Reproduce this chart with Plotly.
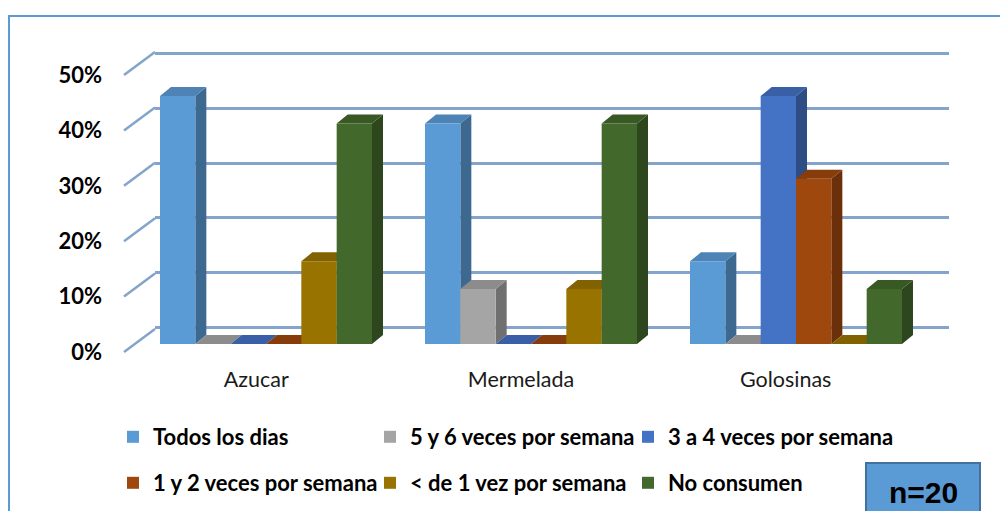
import plotly.graph_objects as go

# ---------------- data ----------------
categories = ["Azucar", "Mermelada", "Golosinas"]
series_names = [
    "Todos los dias",
    "5 y 6 veces por semana",
    "3 a 4 veces por semana",
    "1 y 2 veces por semana",
    "< de 1 vez por semana",
    "No consumen",
]
todos_los_dias = [0.45, 0.40, 0.15]
cinco_seis = [0.00, 0.10, 0.00]
tres_cuatro = [0.00, 0.00, 0.45]
uno_dos = [0.00, 0.00, 0.30]
menos_de_uno = [0.15, 0.10, 0.00]
no_consumen = [0.40, 0.40, 0.10]
series_values = [todos_los_dias, cinco_seis, tres_cuatro, uno_dos, menos_de_uno, no_consumen]
tick_vals = [0, 0.1, 0.2, 0.3, 0.4, 0.5]
tick_text = ["0%", "10%", "20%", "30%", "40%", "50%"]
sample_label = "n=20"

# ---------------- style ----------------
colors = ["#5B9BD5", "#A5A5A5", "#4472C4", "#9E480E", "#997300", "#43682B"]
grid_color = "#84A4CB"
W, H = 1000, 511
FONT = "Lato"


def px(x):
    return x / W


def py(y):
    return 1 - y / H


def shade(hex_color, f):
    h = hex_color.lstrip("#")
    r, g, b = (int(h[i:i + 2], 16) for i in (0, 2, 4))
    return "rgb(%d,%d,%d)" % (int(r * f), int(g * f), int(b * f))


n_series = len(series_names)
group_width = 0.8
bar_w = group_width / n_series
x_positions = list(range(len(categories)))

# depth of the 3D effect (in bar-axis units)
bar_axis_px_per_unit = (344 - 68.5) / 0.5
cat_px = (928.5 - 133.5) / 3.0
depth_dx = 11 / cat_px
depth_dy = 9 / bar_axis_px_per_unit

fig = go.Figure()

legend_ids = ["legend", "legend2", "legend3", "legend4", "legend5", "legend6"]
shapes = []
for i, (name, vals) in enumerate(zip(series_names, series_values)):
    fig.add_trace(go.Bar(
        x=x_positions, y=vals, name=name,
        marker=dict(color=colors[i], line=dict(width=0)),
        offsetgroup=str(i), xaxis="x2", yaxis="y2",
        legend=legend_ids[i], showlegend=True,
        hoverinfo="skip",
    ))

# empty traces so that the back-wall subplot (gridlines) and the
# front-plane label subplot are built
fig.add_trace(go.Scatter(x=[], y=[], xaxis="x", yaxis="y", showlegend=False,
                         legend="legend6", hoverinfo="skip"))
fig.add_trace(go.Scatter(x=[], y=[], xaxis="x3", yaxis="y3", showlegend=False,
                         legend="legend6", hoverinfo="skip"))

# 3D side and top faces, derived from the data through the bar axes
for j in x_positions:
    for i, vals in enumerate(series_values):
        v = vals[j]
        x0 = j - group_width / 2 + i * bar_w
        x1 = x0 + bar_w
        if v > 0:
            side = "M %f,%f L %f,%f L %f,%f L %f,%f Z" % (
                x1, 0, x1 + depth_dx, depth_dy, x1 + depth_dx, v + depth_dy, x1, v)
            shapes.append(dict(type="path", path=side, xref="x2", yref="y2",
                               fillcolor=shade(colors[i], 0.68), line=dict(width=0),
                               layer="between"))
        top = "M %f,%f L %f,%f L %f,%f L %f,%f Z" % (
            x0, v, x1, v, x1 + depth_dx, v + depth_dy, x0 + depth_dx, v + depth_dy)
        shapes.append(dict(type="path", path=top, xref="x2", yref="y2",
                           fillcolor=shade(colors[i], 0.85), line=dict(width=0),
                           layer="between"))

# left wall slanted grid lines (front plane -> back wall), in paper space
front_y0, front_y50 = 352, 75
for t in tick_vals:
    yf = front_y0 - (front_y0 - front_y50) * t / 0.5
    shapes.append(dict(type="line", xref="paper", yref="paper",
                       x0=px(124), y0=py(yf), x1=px(155), y1=py(yf - 23),
                       line=dict(color=grid_color, width=2.5)))

# outer chart border
shapes.append(dict(type="rect", xref="paper", yref="paper",
                   x0=px(9), y0=py(16), x1=px(1012), y1=py(530),
                   line=dict(color="#5B9BD5", width=2), fillcolor="rgba(0,0,0,0)"))
# n=20 box
shapes.append(dict(type="rect", xref="paper", yref="paper",
                   x0=px(866), y0=py(463), x1=px(980), y1=py(525),
                   line=dict(color="#41719C", width=2), fillcolor="#5B9BD5"))

legend_font = dict(family=FONT, size=22, color="black", weight="bold")
# text start x of each legend entry, and row centre y (pixels)
legend_text_x = [153, 410, 668, 153, 410, 668]
legend_row_y = [437, 437, 437, 483, 483, 483]

layout_legends = {}
for k, lid in enumerate(legend_ids):
    layout_legends[lid] = dict(
        orientation="h", x=px(legend_text_x[k] - 40), y=py(legend_row_y[k]),
        xanchor="left", yanchor="middle", bgcolor="rgba(0,0,0,0)",
        font=legend_font, traceorder="normal", visible=True)

fig.update_layout(
    width=W, height=H, autosize=False, showlegend=True,
    margin=dict(l=0, r=0, t=0, b=0, pad=0, autoexpand=False),
    paper_bgcolor="white", plot_bgcolor="rgba(0,0,0,0)",
    barmode="group", bargap=0.2, bargroupgap=0,
    font=dict(family=FONT, color="black"),
    shapes=shapes,
    # back wall (gridlines only)
    xaxis=dict(domain=[px(155), px(949)], range=[0, 1], showticklabels=False,
               showgrid=False, zeroline=False, showline=False, ticks="",
               automargin=False, fixedrange=True),
    yaxis=dict(domain=[py(329), py(52)], range=[-0.002, 0.502], tickvals=tick_vals,
               showticklabels=False, showgrid=True, gridcolor=grid_color, gridwidth=2.5,
               zeroline=False, showline=False, ticks="", automargin=False,
               fixedrange=True),
    # bars
    xaxis2=dict(domain=[px(133.5), px(928.5)], range=[-0.5, 2.5], anchor="y2",
                visible=False, automargin=False, fixedrange=True),
    yaxis2=dict(domain=[py(344), py(68.5)], range=[0, 0.5], anchor="x2",
                visible=False, automargin=False, fixedrange=True),
    # front plane labels
    xaxis3=dict(domain=[px(124), px(918)], range=[-0.5, 2.5], anchor="y3",
                tickvals=x_positions, ticktext=categories, showgrid=False,
                zeroline=False, showline=False, ticks="",
                tickfont=dict(family=FONT, size=21.5, color="#1a1a1a"),
                ticklabelstandoff=12, automargin=False, fixedrange=True),
    yaxis3=dict(domain=[py(front_y0), py(front_y50)], range=[0, 0.5], anchor="x3",
                tickvals=tick_vals, ticktext=["<b>%s</b>" % t for t in tick_text],
                showgrid=False, zeroline=False, showline=False, ticks="",
                tickfont=dict(family=FONT, size=22, color="black"),
                ticklabelstandoff=21, automargin=False, fixedrange=True),
    annotations=[dict(text="<b>%s</b>" % sample_label, xref="paper", yref="paper",
                      x=px(923), y=py(492), xanchor="center", yanchor="middle",
                      showarrow=False,
                      font=dict(family="Liberation Sans", size=30, color="black"))],
    **layout_legends,
)

fig.write_html("out.html",
               config={"displayModeBar": False},
               post_script="document.body.style.margin='0';"
                           "document.body.style.overflow='hidden';")
